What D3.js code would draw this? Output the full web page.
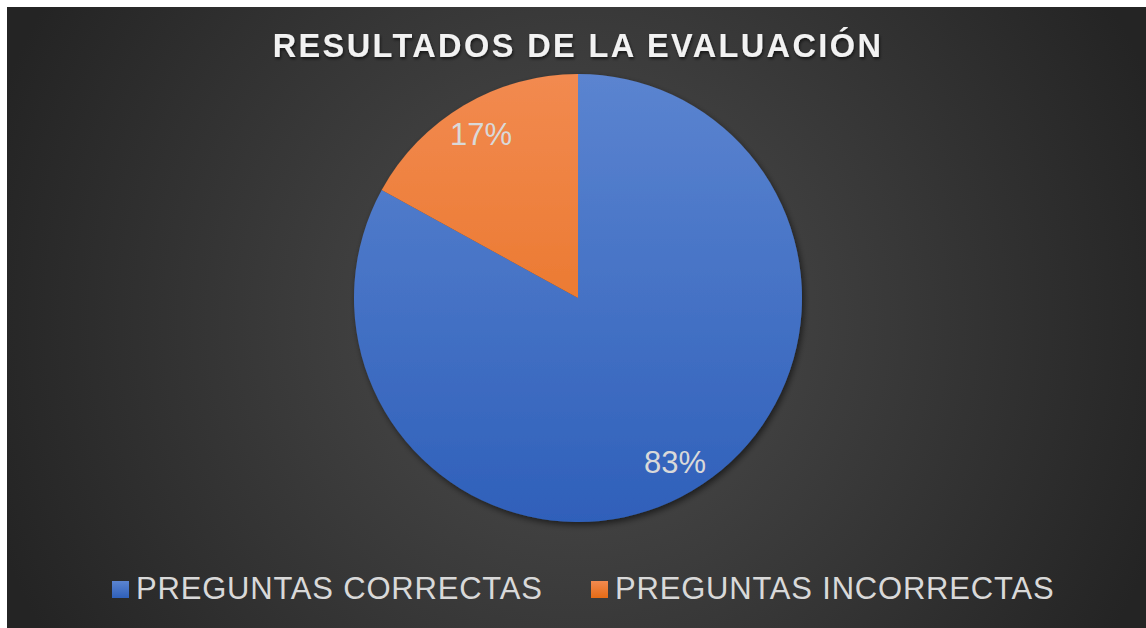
<!DOCTYPE html>
<html>
<head>
<meta charset="utf-8">
<script src="https://cdn.jsdelivr.net/npm/d3@7"></script>
<style>
  html, body { margin: 0; padding: 0; background: #fff; }
  svg { display: block; }
</style>
</head>
<body>
<svg id="chart" width="1146" height="628"></svg>
<script>
// pie data
const categories = ["PREGUNTAS CORRECTAS", "PREGUNTAS INCORRECTAS"];
const values = [83, 17];
const labels = ["83%", "17%"];
const title = "RESULTADOS DE LA EVALUACIÓN";

const W = 1146, H = 628;
const svg = d3.select("#chart");
const defs = svg.append("defs");

// background radial gradient
const bg = defs.append("radialGradient").attr("id", "bg")
  .attr("gradientUnits", "userSpaceOnUse")
  .attr("cx", 578).attr("cy", 320).attr("r", 620);
bg.append("stop").attr("offset", "0%").attr("stop-color", "#4e4e4e");
bg.append("stop").attr("offset", "100%").attr("stop-color", "#242424");

svg.append("rect").attr("x", 7).attr("y", 7).attr("width", W - 7).attr("height", H - 7)
  .attr("fill", "url(#bg)");

const cx = 578, cy = 298, R = 224;

const sliceColors = [
  ["#5b84d0", "#2f60ba"],
  ["#f28a50", "#e56b15"]
];
sliceColors.forEach((c, i) => {
  const g = defs.append("linearGradient").attr("id", "sg" + i)
    .attr("gradientUnits", "userSpaceOnUse")
    .attr("x1", 0).attr("y1", -R).attr("x2", 0).attr("y2", R);
  g.append("stop").attr("offset", "0%").attr("stop-color", c[0]);
  g.append("stop").attr("offset", "100%").attr("stop-color", c[1]);
});

const shadow = defs.append("filter").attr("id", "shadow")
  .attr("x", "-20%").attr("y", "-20%").attr("width", "140%").attr("height", "140%");
shadow.append("feDropShadow").attr("dx", 2).attr("dy", 3).attr("stdDeviation", 3)
  .attr("flood-color", "#000").attr("flood-opacity", 0.55);

const tshadow = defs.append("filter").attr("id", "tshadow")
  .attr("x", "-10%").attr("y", "-30%").attr("width", "120%").attr("height", "160%");
tshadow.append("feDropShadow").attr("dx", 1).attr("dy", 2).attr("stdDeviation", 1.5)
  .attr("flood-color", "#000").attr("flood-opacity", 0.6);

// title
svg.append("text")
  .attr("x", 578).attr("y", 57)
  .attr("text-anchor", "middle")
  .attr("font-family", "Liberation Sans, Arial, sans-serif")
  .attr("font-weight", "bold")
  .attr("font-size", 32.5)
  .attr("letter-spacing", 2.4)
  .attr("fill", "#f2f2f2")
  .attr("filter", "url(#tshadow)")
  .text(title);

// pie: starts at 12 o'clock, clockwise
const pieLayout = d3.pie().sort(null).value(d => d)
  .startAngle(0).endAngle(2 * Math.PI)(values);

const arc = d3.arc().innerRadius(0).outerRadius(R);
const labelArc = d3.arc().innerRadius(R * 0.85).outerRadius(R * 0.85);

const g = svg.append("g").attr("transform", `translate(${cx},${cy})`);
g.append("g").attr("filter", "url(#shadow)")
  .selectAll("path").data(pieLayout).join("path")
  .attr("d", arc)
  .attr("fill", (d, i) => `url(#sg${i})`);

g.selectAll("text.lbl").data(pieLayout).join("text")
  .attr("class", "lbl")
  .attr("transform", d => `translate(${labelArc.centroid(d)})`)
  .attr("text-anchor", "middle")
  .attr("dy", "0.35em")
  .attr("font-family", "Liberation Sans, Arial, sans-serif")
  .attr("font-size", 31)
  .attr("fill", "#d9d9d9")
  .text((d, i) => labels[i]);

// legend
const legendX = [112, 591];
const lg = svg.append("g");
categories.forEach((c, i) => {
  const lgr = defs.append("linearGradient").attr("id", "lg" + i)
    .attr("x1", 0).attr("y1", 0).attr("x2", 0).attr("y2", 1);
  lgr.append("stop").attr("offset", "0%").attr("stop-color", sliceColors[i][0]);
  lgr.append("stop").attr("offset", "100%").attr("stop-color", sliceColors[i][1]);
  lg.append("rect").attr("x", legendX[i]).attr("y", 581).attr("width", 17).attr("height", 17)
    .attr("fill", `url(#lg${i})`);
  lg.append("text").attr("x", legendX[i] + 24).attr("y", 599)
    .attr("font-family", "Liberation Sans, Arial, sans-serif")
    .attr("font-size", 31)
    .attr("letter-spacing", 0.8)
    .attr("fill", "#d9d9d9")
    .text(c);
});
</script>
</body>
</html>
